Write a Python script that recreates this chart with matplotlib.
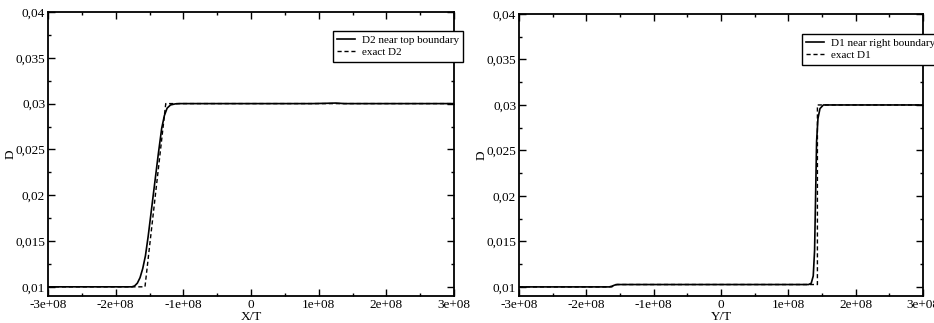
import matplotlib.pyplot as plt
from matplotlib.ticker import MultipleLocator, FuncFormatter

plt.rcParams['font.family'] = ['Liberation Serif', 'DejaVu Serif']
plt.rcParams['font.size'] = 9.5

# left panel: D2 near top boundary (x in units of X/T)
x_d2 = [-3.0e8, -1.76e8, -1.72e8, -1.68e8, -1.64e8, -1.60e8, -1.56e8, -1.52e8,
        -1.47e8, -1.42e8, -1.37e8, -1.32e8, -1.28e8, -1.24e8, -1.19e8, -1.12e8,
        -1.05e8, 0.9e8, 1.1e8, 1.25e8, 1.38e8, 3.0e8]
d2 = [0.0100, 0.0100, 0.0101, 0.0104, 0.0110, 0.0120, 0.0134, 0.0155,
      0.0185, 0.0215, 0.0245, 0.0273, 0.0287, 0.0295, 0.02985, 0.02997,
      0.0300, 0.0300, 0.03003, 0.03006, 0.0300, 0.0300]
x_d2_exact = [-3.0e8, -1.567e8, -1.26e8, 3.0e8]
d2_exact = [0.0100, 0.0100, 0.0300, 0.0300]

# right panel: D1 near right boundary (y in units of Y/T)
y_d1 = [-3.0e8, -1.66e8, -1.62e8, -1.58e8, -1.54e8, 1.30e8, 1.34e8, 1.37e8,
        1.39e8, 1.40e8, 1.41e8, 1.42e8, 1.44e8, 1.47e8, 1.52e8, 3.0e8]
d1 = [0.0100, 0.0100, 0.01008, 0.0102, 0.01026, 0.01026, 0.0104, 0.0112,
      0.0140, 0.0180, 0.0220, 0.0260, 0.0285, 0.0296, 0.0300, 0.0300]
y_d1_exact = [-3.0e8, -1.62e8, -1.58e8, 1.432e8, 1.432e8, 3.0e8]
d1_exact = [0.0100, 0.0100, 0.01026, 0.01026, 0.0300, 0.0300]


def fmt_y(v, pos):
    return ('%g' % round(v, 4)).replace('.', ',')


def fmt_x(v, pos):
    return '%g' % v


def style(ax, xlabel):
    ax.set_xlim(-3e8, 3e8)
    ax.set_ylim(0.009, 0.04)
    ax.xaxis.set_major_locator(MultipleLocator(1e8))
    ax.xaxis.set_minor_locator(MultipleLocator(5e7))
    ax.yaxis.set_major_locator(MultipleLocator(0.005))
    ax.yaxis.set_minor_locator(MultipleLocator(0.0025))
    ax.xaxis.set_major_formatter(FuncFormatter(fmt_x))
    ax.yaxis.set_major_formatter(FuncFormatter(fmt_y))
    ax.tick_params(which='both', direction='in', top=True, right=True, width=1.0)
    ax.tick_params(which='major', length=5, pad=2)
    ax.tick_params(which='minor', length=2.5)
    for s in ax.spines.values():
        s.set_linewidth(1.3)
    ax.set_xlabel(xlabel, labelpad=0)
    ax.set_ylabel('D', labelpad=-1)


def add_legend(handles, labels, anchor):
    leg = fig.legend(handles, labels, loc='upper left', bbox_to_anchor=anchor,
                     fancybox=False, edgecolor='black', handlelength=1.6,
                     handletextpad=0.6, borderpad=0.4, labelspacing=0.2,
                     borderaxespad=0, framealpha=1, fontsize=8)
    leg.get_frame().set_linewidth(1.0)
    return leg


fig = plt.figure(figsize=(9.34, 3.23), dpi=100)
ax1 = fig.add_axes([0.0514, 0.0836, 0.4347, 0.8793])
ax2 = fig.add_axes([0.5557, 0.0836, 0.4325, 0.8731])

l1, = ax1.plot(x_d2, d2, color='black', lw=1.2)
l2, = ax1.plot(x_d2_exact, d2_exact, color='black', lw=1.0, dashes=(3, 2))
style(ax1, 'X/T')
add_legend([l1, l2], ['D2 near top boundary', 'exact D2'], (0.3565, 0.904))

r1, = ax2.plot(y_d1, d1, color='black', lw=1.2)
r2, = ax2.plot(y_d1_exact, d1_exact, color='black', lw=1.0, dashes=(3, 2))
style(ax2, 'Y/T')
add_legend([r1, r2], ['D1 near right boundary', 'exact D1'], (0.8587, 0.895))

plt.savefig('out.png', dpi=100)
